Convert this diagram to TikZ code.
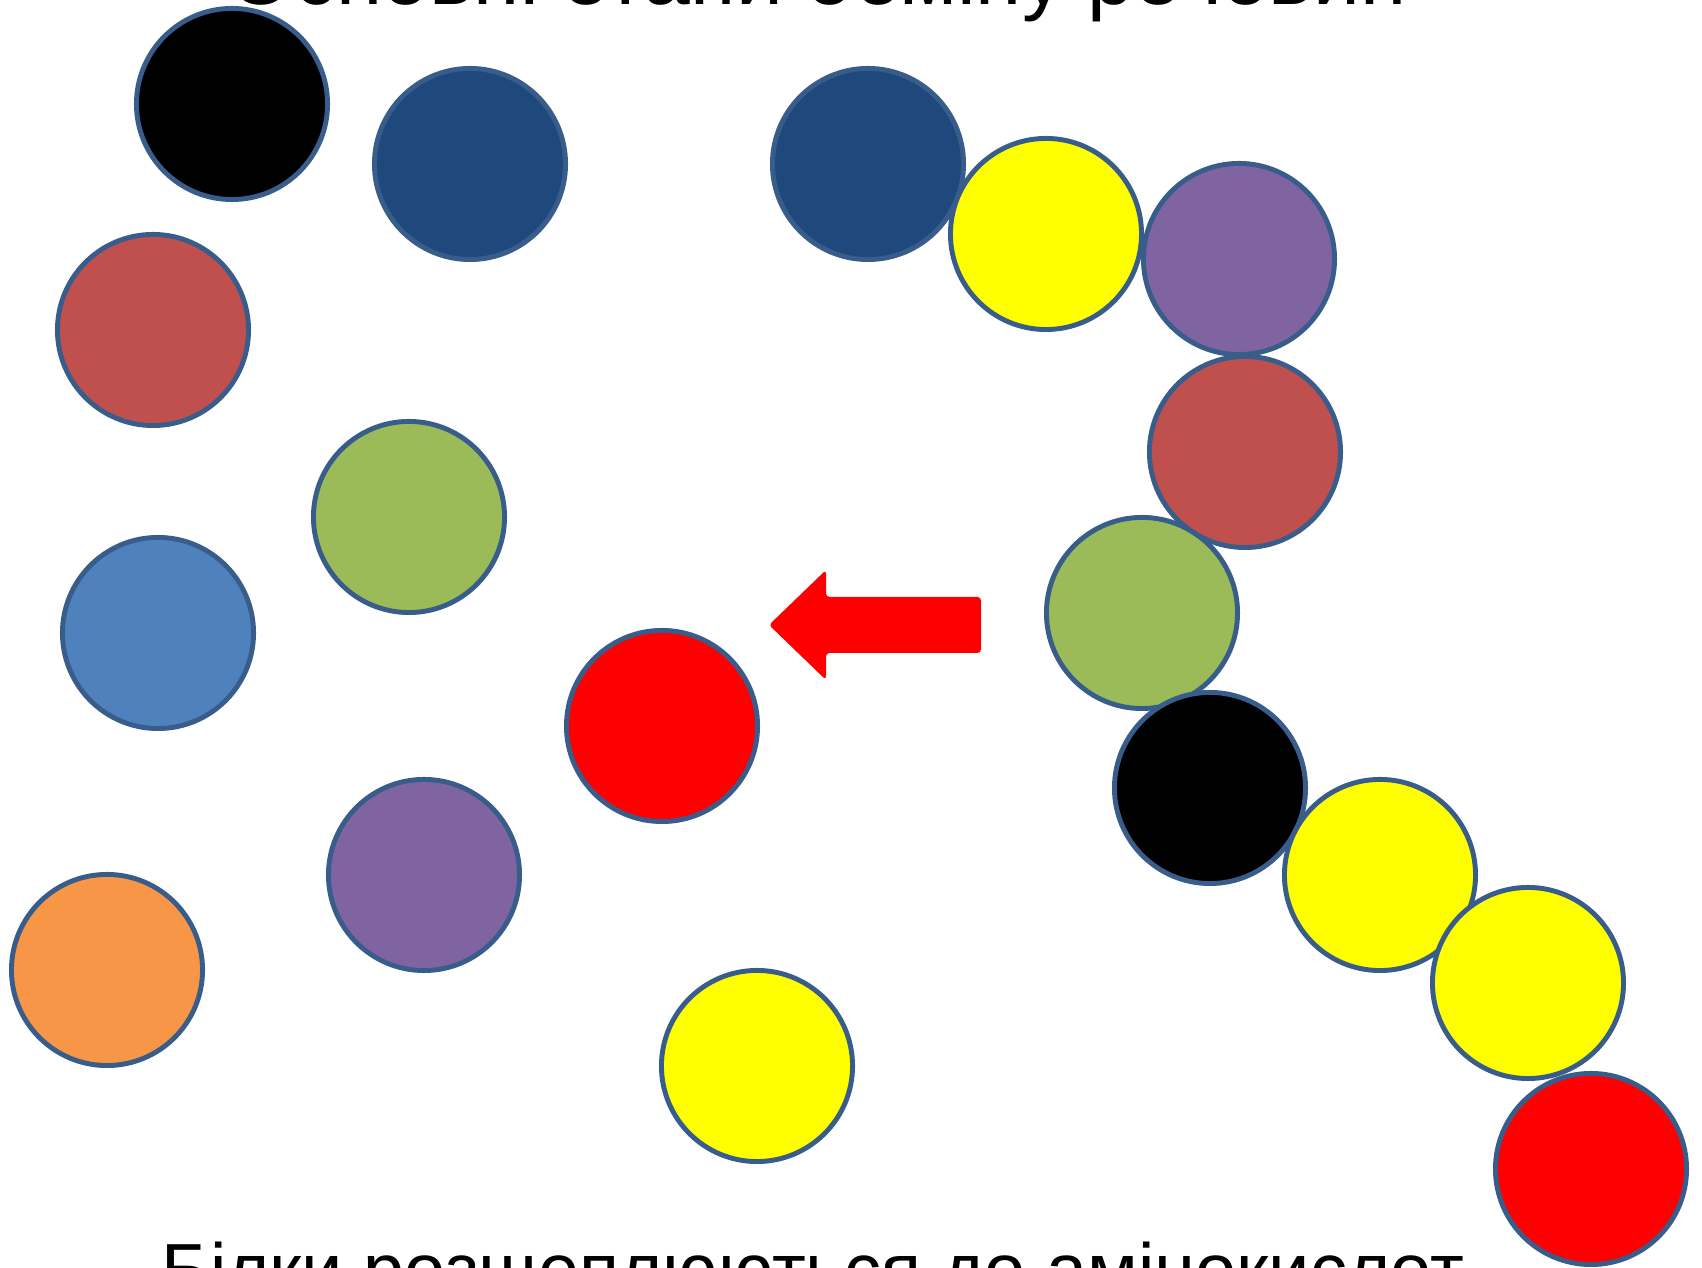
\documentclass[tikz,border=0pt]{standalone}
\usepackage{fontspec}
\setmainfont{Liberation Sans}
\usepackage{tikz}

\definecolor{rim}{HTML}{385D8A}
\definecolor{navy}{HTML}{1F497D}
\definecolor{brick}{HTML}{C0504D}
\definecolor{olive}{HTML}{9BBB59}
\definecolor{steel}{HTML}{4F81BD}
\definecolor{violet}{HTML}{8064A2}
\definecolor{peach}{HTML}{F79646}
\definecolor{lemon}{HTML}{FFFF00}
\definecolor{scarlet}{HTML}{FF0000}

\begin{document}
\begin{tikzpicture}[x=0.01cm,y=-0.01cm,
  ball/.style={draw=rim,line width=1.4pt,circle,inner sep=0pt,minimum size=1.91cm},
  heading/.style={inner sep=0pt,anchor=base west}]

\useasboundingbox (0,0) rectangle (1702,1268);

% free amino acids
\foreach \n/\x/\y/\c in {a1/232/104/black,a2/470/164/navy,a3/153/330/brick,
  a4/409/517/olive,a5/158/633/steel,a6/662/726/scarlet,a7/424/875/violet,
  a8/107/970/peach,a9/757/1066/lemon}{
  \node[ball,fill=\c] (\n) at (\x,\y) {};
}

% protein chain
\foreach \n/\x/\y/\c in {p1/868/164/navy,p2/1046/234/lemon,p3/1239/259/violet,
  p4/1142/613/olive,p5/1245/452/brick,p6/1210/788/black,p7/1380/875/lemon,
  p8/1528/983/lemon,p9/1591/1169/scarlet}{
  \node[ball,fill=\c] (\n) at (\x,\y) {};
}

% arrow
\fill[scarlet,rounded corners=1pt] (769,625) -- (826,570) -- (826,597) -- (981,597)
  -- (981,653) -- (826,653) -- (826,680) -- cycle;

\node[heading,font=\fontsize{23.9pt}{28pt}\selectfont] (title) at (228,5) {Основні етапи обміну речовин};
\node[heading,font=\fontsize{21pt}{25pt}\selectfont] (caption) at (161,1296) {Білки розщеплюються до амінокислот};

\end{tikzpicture}
\end{document}
